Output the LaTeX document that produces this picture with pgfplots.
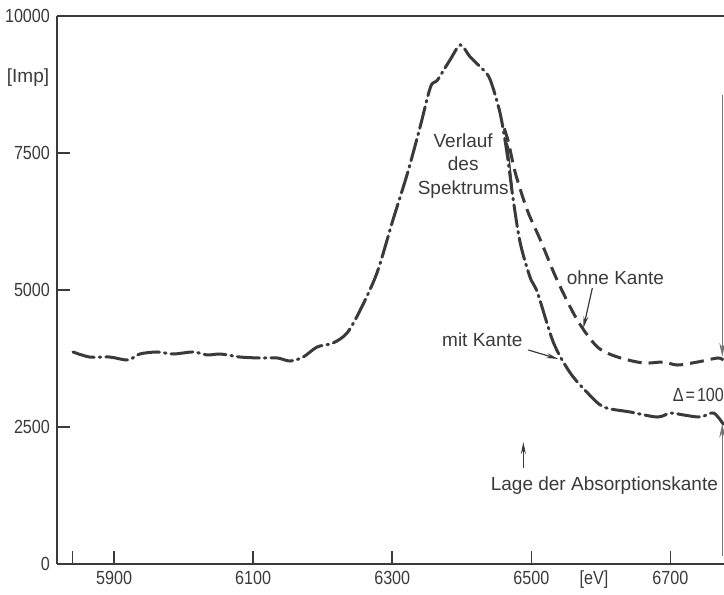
\documentclass[border=0pt]{standalone}
\usepackage{fontspec}
\setmainfont{Liberation Sans}
\newfontfamily\tickfont{Liberation Sans}[FakeStretch=0.85]
\usepackage{pgfplots}
\pgfplotsset{compat=1.18}
\usetikzlibrary{arrows.meta}
\definecolor{ink}{HTML}{3A3A3A}
\begin{document}
\begin{tikzpicture}
\begin{axis}[
  scale only axis,
  width=333.5pt, height=274pt,
  xmin=5818, xmax=6777, ymin=0, ymax=10000,
  axis lines*=left,
  axis line style={ink, line width=0.9pt},
  tick align=inside, tick pos=left,
  major tick length=6.5pt,
  tick style={ink, line width=0.8pt},
  xtick={5840,5900,6100,6300,6500,6700},
  xticklabels={,5900,6100,6300,6500,6700},
  ytick={0,2500,5000,7500,10000},
  yticklabels={0,2500,5000,7500,10000},
  extra x ticks={6590},
  extra x tick labels={{[eV]}},
  extra x tick style={major tick length=0pt},
  ticklabel style={font=\tickfont\fontsize{9.5}{11}\selectfont, text=ink},
  /pgf/number format/assume math mode=true,
  clip=false,
]
\draw[ink, line width=0.9pt] (rel axis cs:0,1) -- (rel axis cs:1,1);
\coordinate (bl) at (rel axis cs:0,0);
\coordinate (tr) at (rel axis cs:1,1);

% mit Kante / Verlauf des Spektrums (dash-dot)
\addplot[ink, line width=1.5pt, smooth, tension=0.5, line cap=round,
  dash pattern=on 11pt off 2.5pt on 0.8pt off 2.5pt] coordinates {
(5841,3869) (5865,3777) (5894,3777) (5920,3723) (5937,3832) (5962,3869)
(5985,3832) (6014,3869) (6034,3814) (6053,3832) (6081,3777) (6110,3759)
(6135,3759) (6153,3704) (6172,3777) (6192,3960) (6215,4033) (6235,4215)
(6254,4635) (6278,5310) (6301,6277) (6322,7135) (6340,7974) (6355,8704)
(6365,8832) (6383,9197) (6398,9471) (6412,9252) (6431,9015) (6441,8832)
(6455,8230) (6465,7500) (6474,6642) (6484,5858) (6498,5237) (6509,4945)
(6532,4033) (6556,3485) (6581,3120) (6604,2865) (6642,2774) (6681,2682)
(6700,2755) (6719,2719) (6743,2682) (6762,2755) (6776,2550)
};
% ohne Kante (dashed)
\addplot[ink, line width=1.5pt, smooth, tension=0.5,
  dash pattern=on 7pt off 3.5pt] coordinates {
(6461,7950) (6467,7700) (6477,7135) (6494,6460) (6513,5912) (6537,5182)
(6566,4453) (6595,3960) (6624,3777) (6661,3668) (6690,3686) (6710,3631)
(6739,3686) (6768,3759) (6776,3720)
};

% labels
\node[text=ink, font=\fontsize{9.5}{11}\selectfont] at (rel axis cs:-0.0435,0.887) {[Imp]};
\node[text=ink, align=center, font=\fontsize{9.5}{11.75}\selectfont] at (axis cs:6402,7263) {Verlauf\\des\\Spektrums};
\draw[ink, line width=0.6pt, -{Stealth[length=6pt,width=2.5pt]}] (axis cs:6472.6,6879) -- (axis cs:6465.5,7701);
\node[text=ink, font=\fontsize{9.5}{11}\selectfont] at (axis cs:6620.8,5219) {ohne Kante};
\draw[ink, line width=0.6pt, -{Stealth[length=6pt,width=2.5pt]}] (axis cs:6587.7,5036) -- (axis cs:6574.8,4306);
\node[text=ink, font=\fontsize{9.5}{11}\selectfont] at (axis cs:6429.5,4088) {mit Kante};
\draw[ink, line width=0.6pt, -{Stealth[length=6pt,width=2.5pt]}] (axis cs:6495.7,3905) -- (axis cs:6538.8,3741);
\node[text=ink, font=\fontsize{9.5}{11}\selectfont] at (axis cs:6605,1423) {Lage der Absorptionskante};
\draw[ink, line width=0.6pt, -{Stealth[length=6pt,width=2.5pt]}] (axis cs:6488.5,1752) -- (axis cs:6488.5,2226);
\node[text=ink, anchor=west, inner sep=0pt, font=\tickfont\fontsize{9.5}{11}\selectfont] at (axis cs:6702.8,3084) {Δ\kern1pt=\kern1pt1000};
\draw[ink!70, line width=0.5pt, -{Stealth[length=7pt,width=3pt]}] (axis cs:6774.5,8558) -- (axis cs:6774.5,3780);
\draw[ink!70, line width=0.5pt, -{Stealth[length=7pt,width=3pt]}] (axis cs:6774.5,150) -- (axis cs:6774.5,2560);
\end{axis}
\pgfresetboundingbox
\path[use as bounding box] ([shift={(-28.5pt,-15.5pt)}]bl) rectangle ([shift={(0pt,8pt)}]tr);
\end{tikzpicture}
\end{document}
